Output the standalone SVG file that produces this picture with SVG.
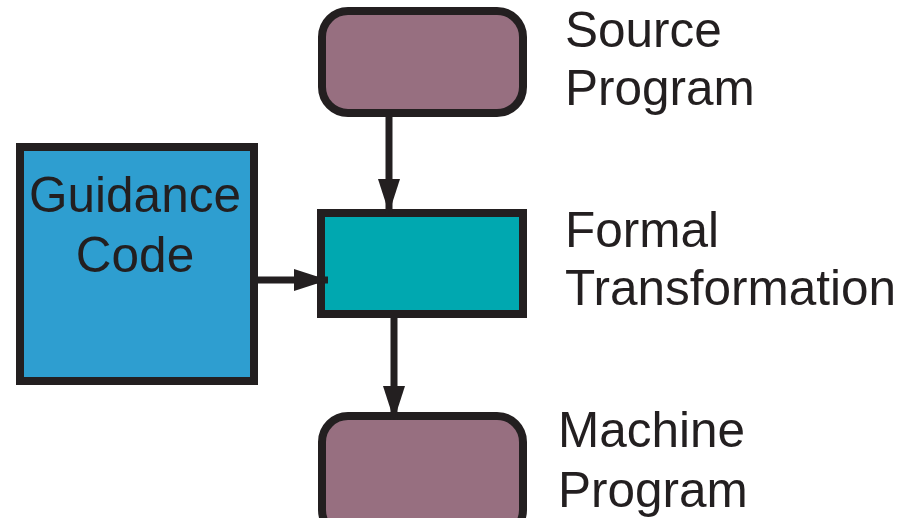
<svg xmlns="http://www.w3.org/2000/svg" width="908" height="518" viewBox="0 0 908 518">
<style>
.box{stroke:#231F20;stroke-width:8}
.prog{fill:#976F80}
.lbl{font-family:"Liberation Sans",Arial,sans-serif;font-size:49.5px;fill:#231F20}
.conn{stroke:#231F20;stroke-width:7;fill:none}
</style>
<defs>
<marker id="ah" markerUnits="userSpaceOnUse" markerWidth="36" markerHeight="24" refX="34" refY="11" orient="auto" viewBox="0 0 36 22">
<path d="M0,0 L34,11 L0,22 Z" fill="#231F20"/>
</marker>
</defs>
<rect width="908" height="518" fill="#fff"/>
<g id="source">
<rect class="box prog" x="322" y="11" width="201" height="102" rx="26"/>
<text class="lbl" x="565" y="47">Source</text>
<text class="lbl" x="565" y="105">Program</text>
</g>
<g id="formal">
<rect class="box" fill="#00A8B0" x="321" y="213" width="202" height="101"/>
<text class="lbl" x="565" y="247">Formal</text>
<text class="lbl" x="565" y="305">Transformation</text>
</g>
<g id="machine">
<rect class="box prog" x="322" y="416" width="201" height="120" rx="26"/>
<text class="lbl" x="558" y="447">Machine</text>
<text class="lbl" x="558" y="507">Program</text>
</g>
<g id="guidance">
<rect class="box" fill="#2E9ED0" x="20" y="147" width="234" height="234"/>
<text class="lbl" x="135" y="212" text-anchor="middle">Guidance</text>
<text class="lbl" x="135" y="272" text-anchor="middle">Code</text>
</g>
<g id="connectors">
<line class="conn" x1="389" y1="117" x2="389" y2="213" marker-end="url(#ah)"/>
<line class="conn" x1="258" y1="280" x2="328" y2="280" marker-end="url(#ah)"/>
<line class="conn" x1="394" y1="318" x2="394" y2="420" marker-end="url(#ah)"/>
</g>
</svg>
